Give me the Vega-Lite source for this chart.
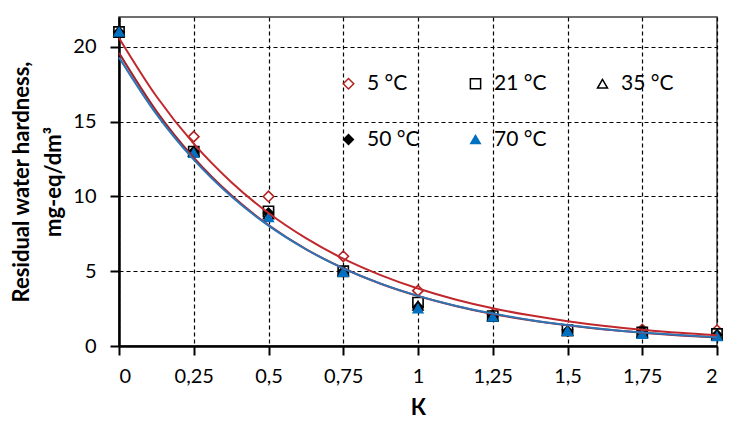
{
  "$schema": "https://vega.github.io/schema/vega-lite/v6.json",
  "width": 598,
  "height": 329,
  "autosize": {"type": "none"},
  "padding": {"left": 119, "top": 17, "right": 12, "bottom": 78},
  "background": "white",
  "config": {
    "font": "Lato",
    "view": {"stroke": "#404040", "strokeWidth": 1.5},
    "axis": {
      "labelFont": "Lato",
      "labelFontSize": 20,
      "labelColor": "black",
      "titleFont": "Lato",
      "titleFontSize": 22,
      "titleFontWeight": "bold",
      "titleColor": "black",
      "domainColor": "black",
      "domainWidth": 2.5,
      "tickColor": "black",
      "tickWidth": 2,
      "tickSize": 9,
      "gridColor": "black",
      "gridDash": [4, 3],
      "gridWidth": 1.2,
      "gridOpacity": 1
    }
  },
  "datasets": {
    "points": [
      {"T": "5 °C", "k": 0, "h": 21}, {"T": "21 °C", "k": 0, "h": 21}, {"T": "35 °C", "k": 0, "h": 21}, {"T": "50 °C", "k": 0, "h": 21}, {"T": "70 °C", "k": 0, "h": 21},
      {"T": "5 °C", "k": 0.25, "h": 14}, {"T": "21 °C", "k": 0.25, "h": 13}, {"T": "35 °C", "k": 0.25, "h": 13}, {"T": "50 °C", "k": 0.25, "h": 13}, {"T": "70 °C", "k": 0.25, "h": 12.9},
      {"T": "5 °C", "k": 0.5, "h": 10}, {"T": "21 °C", "k": 0.5, "h": 9}, {"T": "35 °C", "k": 0.5, "h": 8.8}, {"T": "50 °C", "k": 0.5, "h": 8.9}, {"T": "70 °C", "k": 0.5, "h": 8.6},
      {"T": "5 °C", "k": 0.75, "h": 6}, {"T": "21 °C", "k": 0.75, "h": 5}, {"T": "35 °C", "k": 0.75, "h": 5}, {"T": "50 °C", "k": 0.75, "h": 5}, {"T": "70 °C", "k": 0.75, "h": 4.95},
      {"T": "5 °C", "k": 1, "h": 3.7}, {"T": "21 °C", "k": 1, "h": 2.9}, {"T": "35 °C", "k": 1, "h": 2.7}, {"T": "50 °C", "k": 1, "h": 2.6}, {"T": "70 °C", "k": 1, "h": 2.5},
      {"T": "5 °C", "k": 1.25, "h": 2.1}, {"T": "21 °C", "k": 1.25, "h": 2}, {"T": "35 °C", "k": 1.25, "h": 2}, {"T": "50 °C", "k": 1.25, "h": 2}, {"T": "70 °C", "k": 1.25, "h": 1.95},
      {"T": "5 °C", "k": 1.5, "h": 1.1}, {"T": "21 °C", "k": 1.5, "h": 1.05}, {"T": "35 °C", "k": 1.5, "h": 1}, {"T": "50 °C", "k": 1.5, "h": 1}, {"T": "70 °C", "k": 1.5, "h": 1},
      {"T": "5 °C", "k": 1.75, "h": 1.1}, {"T": "21 °C", "k": 1.75, "h": 0.9}, {"T": "35 °C", "k": 1.75, "h": 0.9}, {"T": "50 °C", "k": 1.75, "h": 1}, {"T": "70 °C", "k": 1.75, "h": 0.8},
      {"T": "5 °C", "k": 2, "h": 1.05}, {"T": "21 °C", "k": 2, "h": 0.8}, {"T": "35 °C", "k": 2, "h": 0.7}, {"T": "50 °C", "k": 2, "h": 0.75}, {"T": "70 °C", "k": 2, "h": 0.65}
    ],
    "curves": [
      {"c": "a", "k": 0, "h": 19.6}, {"c": "a", "k": 0.125, "h": 15.71}, {"c": "a", "k": 0.25, "h": 12.59}, {"c": "a", "k": 0.375, "h": 10.09}, {"c": "a", "k": 0.5, "h": 8.09}, {"c": "a", "k": 0.625, "h": 6.48}, {"c": "a", "k": 0.75, "h": 5.2}, {"c": "a", "k": 0.875, "h": 4.16}, {"c": "a", "k": 1, "h": 3.34}, {"c": "a", "k": 1.125, "h": 2.68}, {"c": "a", "k": 1.25, "h": 2.14}, {"c": "a", "k": 1.375, "h": 1.72}, {"c": "a", "k": 1.5, "h": 1.38}, {"c": "a", "k": 1.625, "h": 1.1}, {"c": "a", "k": 1.75, "h": 0.89}, {"c": "a", "k": 1.875, "h": 0.71}, {"c": "a", "k": 2, "h": 0.57},
      {"c": "b", "k": 0, "h": 19.3}, {"c": "b", "k": 0.125, "h": 15.51}, {"c": "b", "k": 0.25, "h": 12.46}, {"c": "b", "k": 0.375, "h": 10.01}, {"c": "b", "k": 0.5, "h": 8.05}, {"c": "b", "k": 0.625, "h": 6.47}, {"c": "b", "k": 0.75, "h": 5.19}, {"c": "b", "k": 0.875, "h": 4.17}, {"c": "b", "k": 1, "h": 3.35}, {"c": "b", "k": 1.125, "h": 2.69}, {"c": "b", "k": 1.25, "h": 2.17}, {"c": "b", "k": 1.375, "h": 1.74}, {"c": "b", "k": 1.5, "h": 1.4}, {"c": "b", "k": 1.625, "h": 1.12}, {"c": "b", "k": 1.75, "h": 0.9}, {"c": "b", "k": 1.875, "h": 0.73}, {"c": "b", "k": 2, "h": 0.58},
      {"c": "c", "k": 0, "h": 20.6}, {"c": "c", "k": 0.125, "h": 16.7}, {"c": "c", "k": 0.25, "h": 13.53}, {"c": "c", "k": 0.375, "h": 10.97}, {"c": "c", "k": 0.5, "h": 8.89}, {"c": "c", "k": 0.625, "h": 7.21}, {"c": "c", "k": 0.75, "h": 5.84}, {"c": "c", "k": 0.875, "h": 4.74}, {"c": "c", "k": 1, "h": 3.84}, {"c": "c", "k": 1.125, "h": 3.11}, {"c": "c", "k": 1.25, "h": 2.52}, {"c": "c", "k": 1.375, "h": 2.05}, {"c": "c", "k": 1.5, "h": 1.66}, {"c": "c", "k": 1.625, "h": 1.34}, {"c": "c", "k": 1.75, "h": 1.09}, {"c": "c", "k": 1.875, "h": 0.88}, {"c": "c", "k": 2, "h": 0.72}
    ]
  },
  "encoding": {
    "x": {
      "field": "k", "type": "quantitative",
      "scale": {"domain": [0, 2], "nice": false},
      "axis": {
        "values": [0, 0.25, 0.5, 0.75, 1, 1.25, 1.5, 1.75, 2],
        "labelExpr": "replace(format(datum.value, '~g'), '.', ',')",
        "title": "К",
        "titlePadding": 11,
        "labelPadding": 11
      }
    },
    "y": {
      "field": "h", "type": "quantitative",
      "scale": {"domain": [0, 22], "nice": false},
      "axis": {
        "values": [0, 5, 10, 15, 20],
        "title": ["Residual water hardness,", "mg-eq/dm³"],
        "titleLineHeight": 32,
        "titlePadding": 7,
        "labelPadding": 14
      }
    }
  },
  "layer": [
    {
      "data": {"name": "points"},
      "mark": {"type": "point", "strokeWidth": 1.6, "opacity": 1},
      "encoding": {
        "shape": {
          "field": "T", "type": "nominal",
          "scale": {"domain": ["5 °C", "21 °C", "35 °C", "50 °C", "70 °C"], "range": ["diamond", "square", "triangle-up", "diamond", "triangle-up"]},
          "legend": {
            "orient": "none", "legendX": 219, "legendY": 56, "direction": "horizontal",
            "columns": 3, "columnPadding": 45, "rowPadding": 34,
            "title": null, "labelFontSize": 21, "labelFont": "Lato", "labelColor": "black",
            "symbolStrokeWidth": 1.5, "labelOffset": 8
          }
        },
        "size": {
          "field": "T", "type": "nominal",
          "scale": {"domain": ["5 °C", "21 °C", "35 °C", "50 °C", "70 °C"], "range": [110, 90, 150, 110, 170]}
        },
        "stroke": {
          "field": "T", "type": "nominal",
          "scale": {"domain": ["5 °C", "21 °C", "35 °C", "50 °C", "70 °C"], "range": ["#B22222", "black", "black", "black", "#0070C0"]}
        },
        "fill": {
          "field": "T", "type": "nominal",
          "scale": {"domain": ["5 °C", "21 °C", "35 °C", "50 °C", "70 °C"], "range": ["white", "white", "white", "black", "#0070C0"]}
        }
      }
    },
    {
      "data": {"name": "curves"},
      "mark": {"type": "line", "strokeWidth": 2, "interpolate": "monotone"},
      "encoding": {
        "color": {
          "field": "c", "type": "nominal",
          "scale": {"domain": ["a", "b", "c"], "range": ["#A0222A", "#2E75B6", "#C0282D"]},
          "legend": null
        }
      }
    }
  ]
}
